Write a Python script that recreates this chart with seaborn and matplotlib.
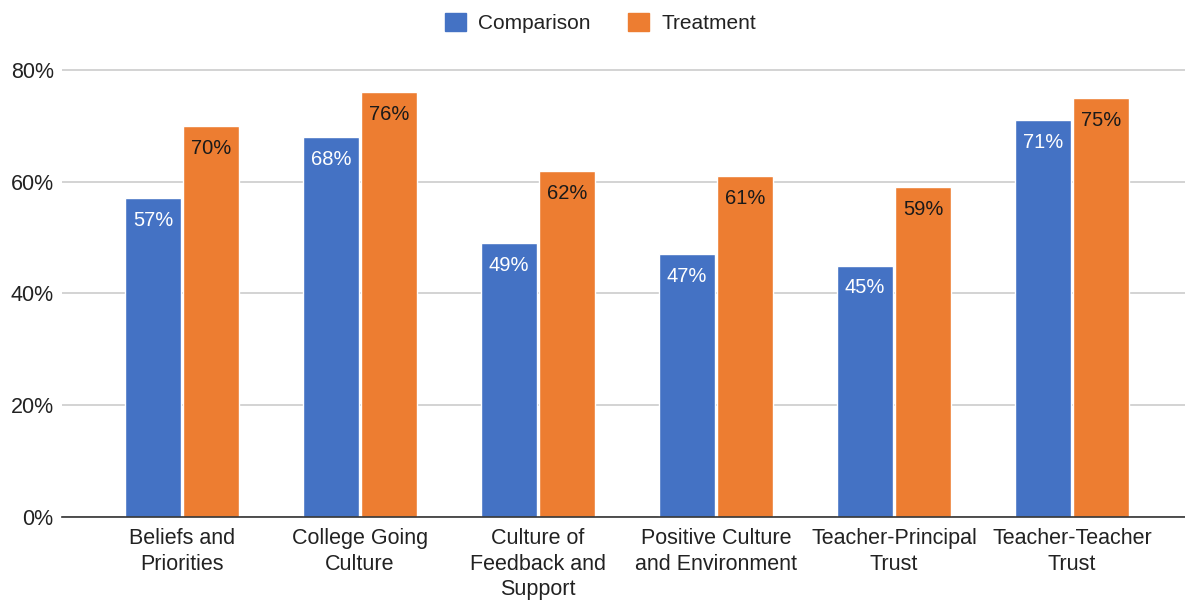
import matplotlib
matplotlib.use("Agg")
import matplotlib.pyplot as plt
import seaborn as sns
import pandas as pd
from matplotlib.patches import Patch

categories = ["Beliefs and\nPriorities", "College Going\nCulture", "Culture of\nFeedback and\nSupport",
              "Positive Culture\nand Environment", "Teacher-Principal\nTrust", "Teacher-Teacher\nTrust"]
series = ["Comparison", "Treatment"]
comparison = [57, 68, 49, 47, 45, 71]
treatment = [70, 76, 62, 61, 59, 75]
yticks = [0, 20, 40, 60, 80]
colors = ["#4472C4", "#ED7D31"]
label_colors = ["white", "#1a1a1a"]

df = pd.DataFrame({
    "category": categories * 2,
    "series": [series[0]] * len(categories) + [series[1]] * len(categories),
    "value": comparison + treatment,
})

sns.set_theme(style="white")
plt.rcParams["font.family"] = ["Liberation Sans", "DejaVu Sans"]

W, H = 1185, 600
fig = plt.figure(figsize=(W / 100, H / 100), dpi=100)
left, right, top, bottom = 62, 1185, 60, 517
ax = fig.add_axes([left / W, 1 - bottom / H, (right - left) / W, (bottom - top) / H])

sns.barplot(data=df, x="category", y="value", hue="series", order=categories,
            hue_order=series, palette=colors, width=0.652, gap=0.05,
            saturation=1, ax=ax, legend=False, errorbar=None)

ax.set_xlim(-0.674, 5.635)
ax.set_ylim(0, 80 + 10 / 5.6)
ax.set_yticks(yticks)
ax.set_yticklabels([f"{v}%" for v in yticks], fontsize=15.5, color="#222222")
ax.tick_params(axis="x", labelsize=15.5, colors="#222222", length=0, pad=8)
ax.tick_params(axis="y", length=0, pad=6)
ax.set_xlabel("")
ax.set_ylabel("")
ax.yaxis.grid(True, color="#cccccc", linewidth=1.2)
ax.set_axisbelow(True)
for s in ["top", "right", "left"]:
    ax.spines[s].set_visible(False)
ax.spines["bottom"].set_color("#333333")
ax.spines["bottom"].set_linewidth(1.2)
for lbl in ax.get_xticklabels():
    lbl.set_linespacing(1.28)

for i, cont in enumerate(ax.containers):
    ax.bar_label(cont, labels=[f"{v:.0f}%" for v in cont.datavalues], padding=-23,
                 color=label_colors[i], fontsize=14.5)

handles = [Patch(facecolor=c, edgecolor=c) for c in colors]
fig.legend(handles, series, loc="center", bbox_to_anchor=(0.507, 1 - 23 / H), ncol=2,
           frameon=False, fontsize=15.0, handlelength=1.0, handleheight=1.0,
           handletextpad=0.6, columnspacing=1.8, labelcolor="#222222")

fig.savefig("out.png", dpi=100)
